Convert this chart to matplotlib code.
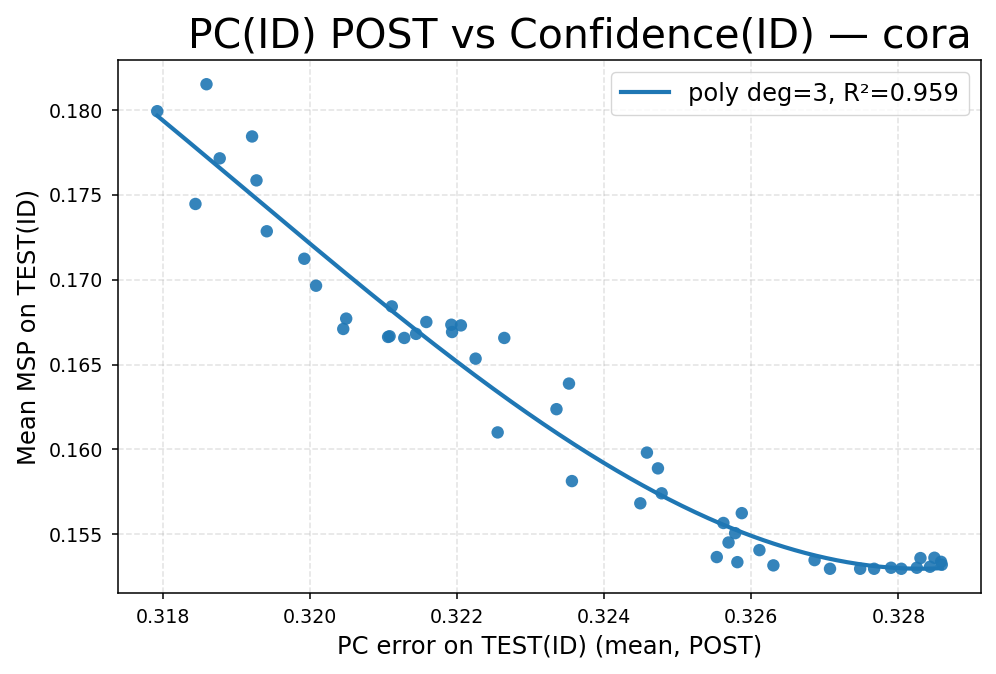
import numpy as np
import matplotlib
matplotlib.use("Agg")
import matplotlib.pyplot as plt

# PC error (x) and mean MSP (y)
pc_error = [
    0.31792, 0.31859, 0.31844, 0.31877, 0.31921, 0.31927, 0.31941, 0.31992, 0.32008,
    0.32049, 0.32045, 0.32111, 0.32106, 0.32108, 0.32128, 0.32144, 0.32158, 0.32192,
    0.32193, 0.32205, 0.32225, 0.32264, 0.32255, 0.32335, 0.32352, 0.32356,
    0.32449, 0.32458, 0.32473, 0.32478, 0.32553, 0.32562, 0.32578, 0.32569, 0.32581,
    0.32587, 0.32611, 0.32630, 0.32686, 0.32707, 0.32748, 0.32767, 0.32790, 0.32804,
    0.32825, 0.32830, 0.32843, 0.32849, 0.32858, 0.32859,
]
mean_msp = [
    0.17994, 0.18153, 0.17447, 0.17716, 0.17845, 0.17586, 0.17286, 0.17124, 0.16965,
    0.16771, 0.16710, 0.16843, 0.16663, 0.16667, 0.16657, 0.16681, 0.16751, 0.16735,
    0.16692, 0.16731, 0.16535, 0.16657, 0.16100, 0.16237, 0.16388, 0.15813,
    0.15682, 0.15981, 0.15888, 0.15741, 0.15365, 0.15566, 0.15506, 0.15451, 0.15335,
    0.15624, 0.15406, 0.15316, 0.15347, 0.15296, 0.15296, 0.15296, 0.15302, 0.15296,
    0.15302, 0.15359, 0.15308, 0.15361, 0.15337, 0.15320,
]
fit_label = "poly deg=3, R\u00b2=0.959"

x = np.array(pc_error)
y = np.array(mean_msp)
coef = np.polyfit(x, y, 3)
xs = np.linspace(x.min(), x.max(), 300)

fig = plt.figure(figsize=(9.96, 6.74), dpi=100)
ax = fig.add_axes([118 / 996, 1 - 593 / 674, (981 - 118) / 996, (593 - 60) / 674])

ax.scatter(x, y, s=80, color="#1f77b4", alpha=0.9, edgecolors="none", zorder=3)
ax.plot(xs, np.polyval(coef, xs), color="#1f77b4", linewidth=3.0, label=fit_label, zorder=4)

ax.set_title("PC(ID) POST vs Confidence(ID) \u2014 cora", fontsize=29.5, x=0.535, pad=9)
ax.set_xlabel("PC error on TEST(ID) (mean, POST)", fontsize=17.5, labelpad=6)
ax.set_ylabel("Mean MSP on TEST(ID)", fontsize=17.5, labelpad=6)
ax.set_xticks([0.318, 0.320, 0.322, 0.324, 0.326, 0.328])
ax.set_yticks([0.155, 0.160, 0.165, 0.170, 0.175, 0.180])
ax.tick_params(labelsize=13.7, length=4.5, width=1.1, pad=6)
for sp in ax.spines.values():
    sp.set_linewidth(1.1)
ax.grid(True, linestyle="--", linewidth=1.1, alpha=0.35)
ax.legend(loc="upper right", fontsize=17.4)

fig.savefig("out.png", dpi=100)
